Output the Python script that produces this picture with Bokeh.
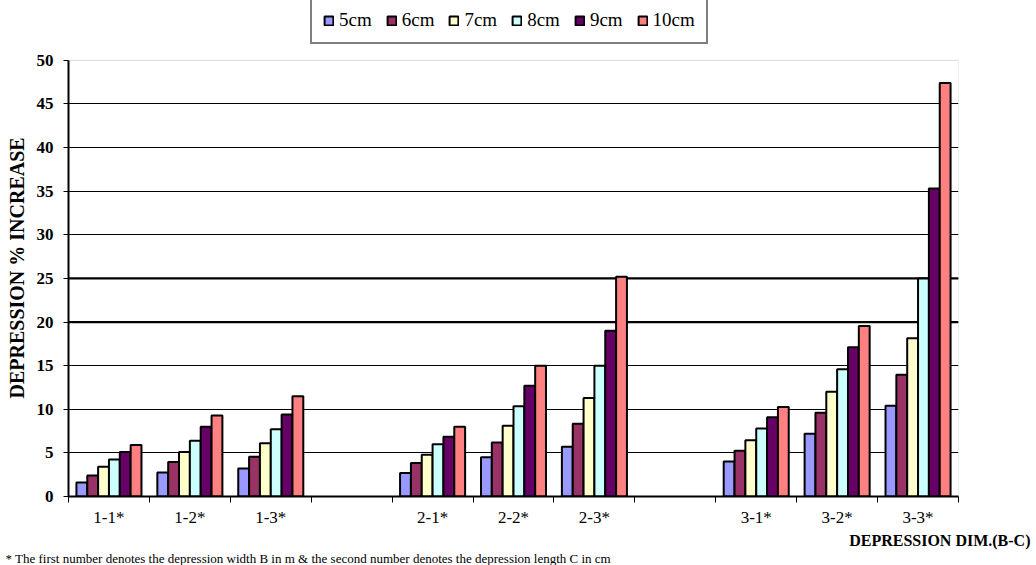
from bokeh.plotting import figure
from bokeh.models import (ColumnDataSource, Range1d, FixedTicker, BoxAnnotation,
                          Legend, LegendItem, Title, Span)
from bokeh.transform import dodge
from bokeh.embed import file_html
from bokeh.resources import INLINE

# ---------------- data ----------------
categories = ["1-1*", "1-2*", "1-3*", "", "2-1*", "2-2*", "2-3*", "", "3-1*", "3-2*", "3-3*"]
series_names = ["5cm", "6cm", "7cm", "8cm", "9cm", "10cm"]
s5 = [1.6, 2.75, 3.2, None, 2.7, 4.5, 5.7, None, 4.0, 7.2, 10.4]
s6 = [2.4, 3.95, 4.55, None, 3.85, 6.2, 8.35, None, 5.25, 9.6, 13.95]
s7 = [3.4, 5.1, 6.1, None, 4.8, 8.1, 11.3, None, 6.45, 12.0, 18.15]
s8 = [4.25, 6.4, 7.7, None, 6.0, 10.35, 15.0, None, 7.8, 14.6, 25.0]
s9 = [5.1, 8.0, 9.4, None, 6.85, 12.7, 19.0, None, 9.1, 17.1, 35.3]
s10 = [5.9, 9.3, 11.5, None, 8.0, 15.0, 25.2, None, 10.25, 19.55, 47.4]
y_ticks = [0, 5, 10, 15, 20, 25, 30, 35, 40, 45, 50]
thick_grid = [20, 25]
colors = ["#9999FF", "#993366", "#FFFFCC", "#CCFFFF", "#660066", "#FF8080"]
y_title = "DEPRESSION % INCREASE"
x_title = "DEPRESSION DIM.(B-C)"
footnote = "*   The first number denotes the depression  width B in m & the second number denotes the depression  length C in cm"

all_series = [s5, s6, s7, s8, s9, s10]
FONT = "Liberation Serif"

W, H = 1036, 565
BORDER_BOTTOM = 68        # expected height of axis + two titles below the plot
PLOT_TOP_PX = 60          # pixel row of the value 50 (room above it for the legend)
y_max = y_ticks[-1]
frame_h = H - BORDER_BOTTOM
y_top = y_max * frame_h / (frame_h - PLOT_TOP_PX)

p = figure(width=W, height=H, output_backend="svg", toolbar_location=None,
           x_range=Range1d(0, len(categories)), y_range=Range1d(0, y_top),
           min_border_left=68, min_border_right=78, min_border_top=0,
           min_border_bottom=BORDER_BOTTOM)

p.background_fill_color = "white"
p.border_fill_color = "white"
p.outline_line_color = None

bar_w = 0.134
renderers = []
for i, (name, vals, col) in enumerate(zip(series_names, all_series, colors)):
    xs = [k + 0.5 for k, v in enumerate(vals) if v is not None]
    ys = [v for v in vals if v is not None]
    src = ColumnDataSource(dict(x=xs, top=ys))
    r = p.vbar(x=dodge("x", (i - 2.5) * bar_w, range=p.x_range), top="top", bottom=0,
               width=bar_w, source=src, fill_color=col, line_color="black", line_width=2)
    renderers.append(r)

# plot-area border (grey, top and right)
p.add_layout(BoxAnnotation(left=0, right=len(categories), bottom=0, top=y_max,
                           fill_alpha=0, line_color="#8c8c8c", line_width=1, level="underlay"))

# grid
p.xgrid.visible = False
p.ygrid.ticker = FixedTicker(ticks=[t for t in y_ticks if 0 < t < y_max])
p.ygrid.grid_line_color = "black"
p.ygrid.grid_line_width = 1
for g in thick_grid:
    p.add_layout(Span(location=g, dimension="width", line_color="black", line_width=2.2,
                      level="underlay"))

# y axis
yax = p.yaxis[0]
yax.ticker = FixedTicker(ticks=y_ticks)
yax.bounds = (0, y_max)
yax.axis_line_color = "black"
yax.axis_line_width = 2
yax.major_tick_out = 5
yax.major_tick_in = 0
yax.major_tick_line_color = "black"
yax.minor_tick_line_color = None
yax.major_label_text_font = FONT
yax.major_label_text_font_style = "bold"
yax.major_label_text_font_size = "17px"
yax.major_label_text_color = "black"
yax.major_label_standoff = 10

# y title (left panel, centred on the 0-50 plot area)
p.add_layout(Title(text=y_title, align="left", vertical_align="middle",
                   offset=frame_h - 399, standoff=9,
                   text_font=FONT, text_font_style="bold", text_font_size="20px",
                   text_color="black"), "left")

# x axis
xax = p.xaxis[0]
centers = [k + 0.5 for k, c in enumerate(categories) if c]
bounds = list(range(len(categories) + 1))
xax.ticker = FixedTicker(ticks=centers, minor_ticks=bounds)
xax.major_label_overrides = {k + 0.5: c for k, c in enumerate(categories) if c}
xax.axis_line_color = "black"
xax.axis_line_width = 2
xax.major_tick_line_color = None
xax.major_tick_out = 0
xax.major_tick_in = 0
xax.minor_tick_line_color = "black"
xax.minor_tick_line_width = 1
xax.minor_tick_out = 6
xax.minor_tick_in = 0
xax.major_label_text_font = FONT
xax.major_label_text_font_size = "17px"
xax.major_label_text_color = "black"
xax.major_label_standoff = 5

# legend (inside the extended frame, above the plot area)
legend = Legend(items=[LegendItem(label=n, renderers=[r]) for n, r in zip(series_names, renderers)],
                orientation="horizontal", location=(242, frame_h - 45))
legend.label_text_font = FONT
legend.label_text_font_size = "19px"
legend.label_text_color = "black"
legend.glyph_width = 11
legend.glyph_height = 11
legend.label_standoff = 5
legend.spacing = 14
legend.padding = 11
legend.margin = 0
legend.border_line_color = "black"
legend.border_line_width = 2
legend.background_fill_color = "white"
legend.background_fill_alpha = 1
p.add_layout(legend, "center")

# x title and footnote as titles below the x axis
p.add_layout(Title(text=x_title, align="right", offset=-72, standoff=0,
                   text_font=FONT, text_font_style="bold", text_font_size="16px",
                   text_color="black"), "below")
p.add_layout(Title(text=footnote, align="left", offset=-63, standoff=0,
                   text_font=FONT, text_font_style="normal", text_font_size="13px",
                   text_color="black"), "below")

open("out.html", "w").write(file_html(p, INLINE))
